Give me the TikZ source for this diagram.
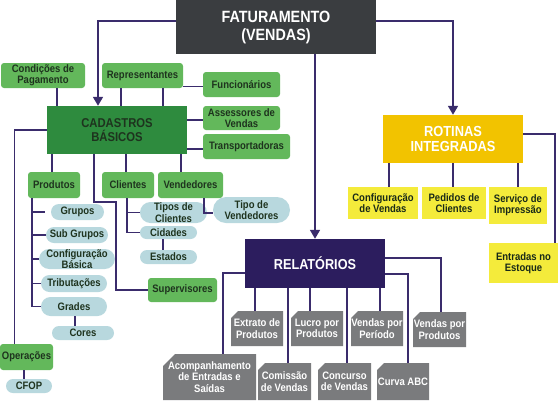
\documentclass[tikz,border=0pt]{standalone}
\usepackage{fontspec}
\setmainfont{Liberation Sans}[FakeStretch=0.88]
\usetikzlibrary{arrows.meta,shapes.misc}
\definecolor{fatc}{HTML}{3A3D40}
\definecolor{cadc}{HTML}{2E8B3E}
\definecolor{lgreen}{HTML}{63B85B}
\definecolor{pillc}{HTML}{B8D8DE}
\definecolor{rotc}{HTML}{F2C300}
\definecolor{ylw}{HTML}{F4EB3B}
\definecolor{relc}{HTML}{2C1D5E}
\definecolor{grayc}{HTML}{7A7B7D}
\definecolor{linec}{HTML}{3A2C6C}
\definecolor{darktxt}{HTML}{1E331E}
\begin{document}
\begin{tikzpicture}[x=1pt,y=-1pt,
  base/.style={inner sep=0pt, align=center, font=\bfseries\fontsize{10.8}{11.3}\selectfont},
  gbox/.style={base, fill=lgreen, rounded corners=3pt, text=darktxt},
  pill/.style={base, rounded rectangle, fill=pillc, text=darktxt},
  ybox/.style={base, fill=ylw, text=darktxt!80!black},
  repbox/.style={base, text=white, path picture={\fill[grayc] ([yshift=-#1]path picture bounding box.north west) -- ([xshift=#1]path picture bounding box.north west) -- (path picture bounding box.north east) -- (path picture bounding box.south east) -- (path picture bounding box.south west) -- cycle;}},
  repbox/.default=7pt,
  conn/.style={draw=linec, line width=1.6pt},
  arr/.style={conn, -{Triangle[width=10pt,length=9pt]}},
  sz/.style 2 args={minimum width=#1, minimum height=#2}
]
\useasboundingbox (0,0) rectangle (560,400);
\fill[white] (0,0) rectangle (560,400);

% main boxes
\node[base, fill=fatc, text=white, sz={200pt}{54pt}, font=\bfseries\fontsize{16.3}{18}\selectfont] (fat) at (276,27) {FATURAMENTO\\(VENDAS)};
\node[base, fill=cadc, text=darktxt, sz={140pt}{48pt}, font=\bfseries\fontsize{12.8}{13.5}\selectfont] (cad) at (117,130) {CADASTROS\\BÁSICOS};
\node[base, fill=rotc, text=white, sz={140pt}{48pt}, font=\bfseries\fontsize{14.6}{15}\selectfont] (rot) at (453,139) {ROTINAS\\INTEGRADAS};
\node[base, fill=relc, text=white, sz={140pt}{49pt}, font=\bfseries\fontsize{14.4}{15}\selectfont] (rel) at (315,263.5) {RELATÓRIOS};

% green boxes
\node[gbox, sz={84pt}{25pt}] (cond) at (43,75.5) {Condições de\\Pagamento};
\node[gbox, sz={81pt}{25pt}] (repr) at (142.5,75.5) {Representantes};
\node[gbox, sz={77pt}{25pt}] (func) at (241.5,84.5) {Funcionários};
\node[gbox, sz={77pt}{24pt}] (asse) at (241.5,118) {Assessores de\\Vendas};
\node[gbox, sz={87pt}{25pt}] (transp) at (246.5,146.5) {Transportadoras};
\node[gbox, sz={52pt}{26pt}] (prod) at (54,185) {Produtos};
\node[gbox, sz={52pt}{26pt}] (cli) at (128,185) {Clientes};
\node[gbox, sz={65pt}{26pt}] (vend) at (190.5,185) {Vendedores};
\node[gbox, sz={69pt}{24pt}] (sup) at (182.5,290) {Supervisores};
\node[gbox, sz={53pt}{26pt}] (oper) at (26.5,357) {Operações};

% pills
\node[pill, sz={53pt}{16pt}] (grupos) at (77.5,212) {Grupos};
\node[pill, sz={62pt}{16pt}] (subg) at (77,235) {Sub Grupos};
\node[pill, sz={62pt}{20pt}] (conf) at (77,259) {Configuração\\Básica};
\node[pill, sz={66pt}{17pt}] (trib) at (74,283.5) {Tributações};
\node[pill, sz={66pt}{19pt}] (grades) at (74,306.5) {Grades};
\node[pill, sz={62pt}{14pt}] (cores) at (83,333) {Cores};
\node[pill, sz={67pt}{21pt}] (tiposc) at (173.5,212.5) {Tipos de\\Clientes};
\node[pill, sz={57pt}{13pt}] (cid) at (168.5,232.5) {Cidades};
\node[pill, sz={57pt}{14pt}] (est) at (168.5,257) {Estados};
\node[pill, sz={77pt}{26pt}] (tipov) at (251.5,210) {Tipo de\\Vendedores};
\node[pill, sz={46pt}{14pt}] (cfop) at (29,386) {CFOP};

% yellow boxes
\node[ybox, sz={70pt}{32pt}] (confv) at (383,203) {Configuração\\de Vendas};
\node[ybox, sz={64pt}{32pt}] (ped) at (454,203) {Pedidos de\\Clientes};
\node[ybox, sz={58pt}{37pt}] (serv) at (518,205.5) {Serviço de\\Impressão};
\node[ybox, sz={69pt}{40pt}] (entr) at (523.5,263) {Entradas no\\Estoque};

% report boxes
\node[repbox, sz={52pt}{35pt}] (extr) at (257,328.5) {Extrato de\\Produtos};
\node[repbox, sz={52pt}{35pt}] (lucro) at (317,328.5) {Lucro por\\Produtos};
\node[repbox, sz={52pt}{35pt}] (vper) at (377,328.5) {Vendas por\\Período};
\node[repbox, sz={53pt}{35pt}] (vprod) at (439.5,329.5) {Vendas por\\Produtos};
\node[repbox=12pt, sz={93pt}{46pt}] (acomp) at (209.5,377) {Acompanhamento\\de Entradas e\\Saídas};
\node[repbox, sz={53pt}{37pt}] (com) at (284.5,381.5) {Comissão\\de Vendas};
\node[repbox, sz={53pt}{37pt}] (conc) at (344.5,381.5) {Concurso\\de Vendas};
\node[repbox, sz={52pt}{37pt}] (curva) at (403,381.5) {Curva ABC};

% connectors from FATURAMENTO
\draw[arr] ([yshift=6pt]fat.west) -| ([xshift=-19pt]cad.north);
\draw[arr] ([yshift=6pt]fat.east) -| (rot.north);
\draw[arr] (fat.south -| rel.north) -- (rel.north);

% CADASTROS top
\draw[conn] ([xshift=14pt]cond.south) -- ([xshift=14pt]cond.south |- cad.north);
\draw[conn] ([xshift=-21.5pt]repr.south) -- ([xshift=-21.5pt]repr.south |- cad.north);
\draw[conn] ([xshift=20.5pt]repr.south) -- ([xshift=20.5pt]repr.south |- cad.north);
\draw[conn] ([yshift=-2pt]func.west) -- ([yshift=-2pt]func.west -| repr.east);
\draw[conn] ([yshift=-2pt]asse.west) -- ([yshift=-2pt]asse.west -| cad.east);
\draw[conn] ([yshift=-2.5pt]transp.west) -- ([yshift=-2.5pt]transp.west -| cad.east);
\draw[conn] (cad.west) -| ([xshift=-12pt]oper.north);

% CADASTROS bottom
\draw[conn] ([xshift=-2pt]prod.north) -- ([xshift=-2pt]prod.north |- cad.south);
\draw[conn] ([xshift=-2pt]cli.north) -- ([xshift=-2pt]cli.north |- cad.south);
\draw[conn] ([xshift=-9.5pt]vend.north) -- ([xshift=-9.5pt]vend.north |- cad.south);
\draw[conn] ([xshift=-23pt]cad.south) -- ++(0,48) -- ++(22,0) |- (sup.west);

% Produtos children
\draw[conn] ([xshift=-22pt]prod.south) |- (grades.west);
\draw[conn] ([xshift=-22pt]prod.south |- grupos.west) -- ([xshift=-6pt]grupos.west);
\draw[conn] ([xshift=-22pt]prod.south |- subg.west) -- (subg.west);
\draw[conn] ([xshift=-22pt]prod.south |- conf.west) -- (conf.west);
\draw[conn] ([xshift=-22pt]prod.south |- trib.west) -- (trib.west);
\draw[conn] ([xshift=1pt]grades.south) -- ([xshift=1pt]grades.south |- cores.north);

% Clientes children
\draw[conn] ([xshift=-1pt]cli.south) |- (cid.west);
\draw[conn] (tiposc.west) -- ([xshift=-1pt]cli.south |- tiposc.west);
\draw[conn] ([xshift=-5.5pt]cid.south) -- ([xshift=-5.5pt]est.north);
\draw[conn] ([xshift=13.5pt]vend.south) |- ([yshift=-3pt]tipov.west);

% Operacoes
\draw[conn] ([xshift=-2.5pt]oper.south) -- ([xshift=-2.5pt]oper.south |- cfop.north);

% Rotinas children
\draw[conn] ([xshift=6pt]confv.north) -- ([xshift=6pt]confv.north |- rot.south);
\draw[conn] ([xshift=-1pt]ped.north) -- ([xshift=-1pt]ped.north |- rot.south);
\draw[conn] (serv.north) -- (serv.north |- rot.south);
\draw[conn] ([yshift=5pt]rot.east) -| ([xshift=31.5pt]entr.north);

% Relatorios children
\draw[conn] ([xshift=-2pt]extr.north) -- ([xshift=-2pt]extr.north |- rel.south);
\draw[conn] ([xshift=-7pt]lucro.north) -- ([xshift=-7pt]lucro.north |- rel.south);
\draw[conn] ([xshift=3pt]vper.north) -- ([xshift=3pt]vper.north |- rel.south);
\draw[conn] ([yshift=5.5pt]rel.east) -| ([xshift=1.5pt]vprod.north);
\draw[conn] ([yshift=-10.5pt]rel.east) -| ([xshift=5pt]curva.north);
\draw[conn] ([yshift=-9.5pt]rel.west) -| ([xshift=13.5pt]acomp.north);
\draw[conn] ([xshift=3.5pt]com.north) -- ([xshift=3.5pt]com.north |- rel.south);
\draw[conn] ([xshift=2.5pt]conc.north) -- ([xshift=2.5pt]conc.north |- rel.south);
\end{tikzpicture}
\end{document}
